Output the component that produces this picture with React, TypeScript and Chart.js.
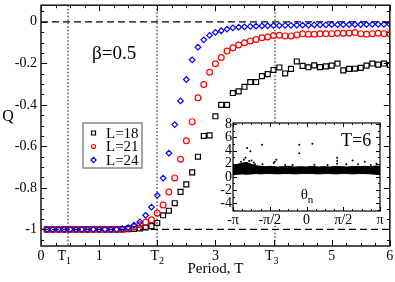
import React, { useEffect, useRef } from 'react';
import { Chart, registerables } from 'chart.js';
Chart.register(...registerables);

const FONT = '"Liberation Serif", "Times New Roman", serif';

// ---------- main data ----------
const periods = [
  0.1, 0.2, 0.3, 0.4, 0.5, 0.6, 0.7, 0.8, 0.9, 1.0,
  1.1, 1.2, 1.3, 1.4, 1.5, 1.6, 1.7, 1.8, 1.9, 2.0,
  2.1, 2.2, 2.3, 2.4, 2.5, 2.6, 2.7, 2.8, 2.9, 3.0,
  3.1, 3.2, 3.3, 3.4, 3.5, 3.6, 3.7, 3.8, 3.9, 4.0,
  4.1, 4.2, 4.3, 4.4, 4.5, 4.6, 4.7, 4.8, 4.9, 5.0,
  5.1, 5.2, 5.3, 5.4, 5.5, 5.6, 5.7, 5.8, 5.9, 6.0,
];
const qL18 = [
  -1, -1, -1, -1, -1, -1, -1, -1, -1, -1,
  -1, -1, -1, -1, -0.999, -0.998, -0.995, -0.991, -0.984, -0.969,
  -0.932, -0.91, -0.874, -0.819, -0.783, -0.725, -0.65, -0.55, -0.547, -0.455,
  -0.4, -0.4, -0.343, -0.335, -0.313, -0.29, -0.29, -0.262, -0.252, -0.232,
  -0.22, -0.249, -0.227, -0.191, -0.212, -0.219, -0.21, -0.218, -0.215, -0.211,
  -0.201, -0.234, -0.227, -0.226, -0.222, -0.211, -0.201, -0.206, -0.201, -0.208,
];
const qL21 = [
  -1, -1, -1, -1, -1, -1, -1, -1, -1, -1,
  -1, -1, -1, -1, -0.995, -0.988, -0.978, -0.965, -0.954, -0.922,
  -0.883, -0.82, -0.752, -0.662, -0.573, -0.481, -0.366, -0.302, -0.243, -0.202,
  -0.172, -0.141, -0.125, -0.112, -0.101, -0.092, -0.085, -0.077, -0.073, -0.066,
  -0.065, -0.068, -0.068, -0.063, -0.058, -0.06, -0.06, -0.058, -0.058, -0.057,
  -0.055, -0.055, -0.054, -0.052, -0.057, -0.06, -0.057, -0.055, -0.057, -0.057,
];
const qL24 = [
  -1, -1, -1, -1, -1, -1, -1, -1, -1, -1,
  -1, -1, -1, -0.997, -0.991, -0.98, -0.964, -0.932, -0.893, -0.836,
  -0.753, -0.633, -0.495, -0.381, -0.278, -0.183, -0.122, -0.087, -0.065, -0.051,
  -0.043, -0.035, -0.029, -0.026, -0.024, -0.022, -0.021, -0.02, -0.019, -0.018,
  -0.018, -0.017, -0.017, -0.016, -0.016, -0.016, -0.015, -0.015, -0.015, -0.014,
  -0.014, -0.014, -0.013, -0.013, -0.013, -0.013, -0.012, -0.012, -0.012, -0.012,
];
const seriesLabels = ['L=18', 'L=21', 'L=24'];
const seriesColors = ['#000000', '#ff0000', '#0000ff'];

const markerPeriods = [0.47, 2.0, 4.03]; // T1, T2, T3 dotted lines
const referenceQ = [0, -1];
const xTickValues = [0, 0.4, 1, 2, 3, 3.97, 5, 6];
const xTickLabels = ['0', 'T1', '1', 'T2', '3', 'T3', '5', '6'];
const yTickValues = [0, -0.2, -0.4, -0.6, -0.8, -1];
const yTickLabels = ['0', '-0.2', '-0.4', '-0.6', '-0.8', '-1'];

// ---------- inset data ----------
const PI = Math.PI;
const insetXTicks = [-PI, -PI / 2, 0, PI / 2, PI];
const insetXLabels = ['-π', '-π/2', '0', 'π/2', 'π'];
const insetYTicks = [8, 6, 4, 2, 0, -2, -4];
const insetYLabels = ['8', '6', '4', '2', '0', '-2', '-4'];
const bandTheta = [
  -3.14, -2.95, -2.75, -2.55, -2.35, -2.15, -1.95, -1.75, -1.5, -1.25,
  -1.0, -0.75, -0.5, -0.25, 0, 0.25, 0.5, 0.75, 1.0, 1.25,
  1.5, 1.75, 2.0, 2.25, 2.5, 2.75, 2.95, 3.14,
];
const bandTop = [
  1.7, 1.9, 2.1, 2.2, 1.9, 1.7, 1.6, 1.55, 1.6, 1.5,
  1.55, 1.6, 1.5, 1.55, 1.5, 1.6, 1.5, 1.55, 1.5, 1.6,
  1.55, 1.5, 1.6, 1.55, 1.6, 1.55, 1.65, 1.6,
];
const bandBottom = [
  0.3, 0.4, 0.45, 0.4, 0.45, 0.5, 0.45, 0.5, 0.5, 0.45,
  0.5, 0.5, 0.45, 0.5, 0.5, 0.5, 0.45, 0.5, 0.5, 0.45,
  0.5, 0.5, 0.45, 0.5, 0.5, 0.45, 0.4, 0.35,
];
const outlierTheta = [
  -2.8, -2.68, -2.61, -2.54, -2.45, -2.4, -2.35, -2.25, -2.55, -2.2,
  -1.9, -1.88, -1.36, -1.29, -1.4, -0.91, -0.6, -0.31, -0.31, 0.25,
  0.34, 0.9, 1.31, 1.31, 1.31, 1.7, 1.97, 2.2, 2.49, 2.75, 2.99,
];
const outlierValue = [
  2.3, 2.6, 2.9, 4.4, 2.4, 3.9, 2.5, 2.2, 2.1, 1.9,
  4.9, 1.9, 2.3, 2.6, 2.1, 1.8, 1.8, 4.9, 3.6, 5.05,
  1.85, 1.8, 2.9, 2.4, 2.0, 1.9, 2.5, 1.9, 2.3, 1.8, 2.0,
];

const INSET_LEFT = 195;
const INSET_TOP = 110;

function drawSubLabel(ctx: CanvasRenderingContext2D, text: string, cx: number, base: number, size: number) {
  const main = text.charAt(0);
  const sub = text.slice(1);
  ctx.font = `${size}px ${FONT}`;
  const w1 = ctx.measureText(main).width;
  ctx.font = `${Math.round(size * 0.7)}px ${FONT}`;
  const w2 = sub ? ctx.measureText(sub).width : 0;
  const start = cx - (w1 + w2) / 2;
  ctx.textAlign = 'left';
  ctx.textBaseline = 'alphabetic';
  ctx.font = `${size}px ${FONT}`;
  ctx.fillText(main, start, base);
  if (sub) {
    ctx.font = `${Math.round(size * 0.7)}px ${FONT}`;
    ctx.fillText(sub, start + w1, base + 4);
  }
}

function symbol(ctx: CanvasRenderingContext2D, kind: number, x: number, y: number, r: number) {
  ctx.beginPath();
  if (kind === 0) ctx.rect(x - r, y - r, 2 * r, 2 * r);
  else if (kind === 1) ctx.arc(x, y, r, 0, 2 * PI);
  else {
    ctx.moveTo(x, y - r * 1.3); ctx.lineTo(x + r * 1.3, y); ctx.lineTo(x, y + r * 1.3); ctx.lineTo(x - r * 1.3, y); ctx.closePath();
  }
  ctx.stroke();
}

const mainDecor = {
  id: 'mainDecor',
  beforeDatasetsDraw(chart: any) {
    const { ctx, chartArea: a, scales } = chart;
    const x = scales.x, y = scales.y;
    ctx.save();
    ctx.strokeStyle = '#555';
    ctx.lineWidth = 1.5;
    ctx.setLineDash([1.5, 2]);
    for (const v of markerPeriods) {
      const px = Math.round(x.getPixelForValue(v));
      ctx.beginPath(); ctx.moveTo(px, a.top); ctx.lineTo(px, a.bottom); ctx.stroke();
    }
    ctx.strokeStyle = '#000';
    ctx.lineWidth = 1.3;
    ctx.setLineDash([7, 4]);
    for (const v of referenceQ) {
      const py = y.getPixelForValue(v);
      ctx.beginPath(); ctx.moveTo(a.left, py); ctx.lineTo(a.right, py); ctx.stroke();
    }
    ctx.restore();
  },
  afterDraw(chart: any) {
    const { ctx, chartArea: a, scales } = chart;
    const x = scales.x, y = scales.y;
    ctx.save();
    ctx.setLineDash([]);
    ctx.strokeStyle = '#000';
    ctx.lineWidth = 1;
    for (let i = 0; i <= 24; i++) {
      const v = i * 0.25;
      const major = i % 4 === 0;
      const len = major ? 6 : 3;
      const px = Math.round(x.getPixelForValue(v)) + 0.5;
      ctx.beginPath();
      ctx.moveTo(px, a.bottom); ctx.lineTo(px, a.bottom - len);
      ctx.moveTo(px, a.top); ctx.lineTo(px, a.top + len);
      ctx.stroke();
    }
    for (let i = -21; i <= 1; i++) {
      const v = i * 0.05;
      const major = i % 4 === 0;
      const len = major ? 6 : 3;
      const py = Math.round(y.getPixelForValue(v)) + 0.5;
      ctx.beginPath();
      ctx.moveTo(a.left, py); ctx.lineTo(a.left + len, py);
      ctx.moveTo(a.right, py); ctx.lineTo(a.right - len, py);
      ctx.stroke();
    }
    ctx.lineWidth = 1.6;
    ctx.strokeStyle = '#222';
    ctx.strokeRect(a.left, a.top, a.right - a.left, a.bottom - a.top);
    ctx.fillStyle = '#000';
    ctx.font = `14px ${FONT}`;
    ctx.textAlign = 'right';
    ctx.textBaseline = 'middle';
    yTickValues.forEach((v, i) => ctx.fillText(yTickLabels[i], a.left - 4, y.getPixelForValue(v)));
    xTickValues.forEach((v, i) => drawSubLabel(ctx, xTickLabels[i], x.getPixelForValue(v), a.bottom + 14, 14));
    ctx.font = `16px ${FONT}`;
    ctx.textAlign = 'center';
    ctx.textBaseline = 'middle';
    ctx.fillText('Q', 8, 117);
    ctx.font = `15px ${FONT}`;
    ctx.textBaseline = 'alphabetic';
    ctx.fillText('Period, T', (a.left + a.right) / 2, 273);
    ctx.font = `19px ${FONT}`;
    ctx.textAlign = 'left';
    ctx.fillText('β=0.5', 92, 59);
    ctx.strokeStyle = '#888';
    ctx.lineWidth = 1.5;
    ctx.strokeRect(83, 123, 59, 45);
    ctx.font = `15px ${FONT}`;
    ctx.textBaseline = 'middle';
    seriesLabels.forEach((lab, i) => {
      const yy = 133 + i * 13.5;
      ctx.strokeStyle = seriesColors[i];
      ctx.lineWidth = 1.2;
      symbol(ctx, i, 93.5, yy, 2);
      ctx.fillStyle = '#000';
      ctx.fillText(lab, 106, yy + 1);
    });
    ctx.restore();
  },
};

const insetDecor = {
  id: 'insetDecor',
  beforeDraw(chart: any) {
    const { ctx, chartArea: a } = chart;
    ctx.save();
    ctx.fillStyle = '#fff';
    ctx.fillRect(a.left, a.top, a.right - a.left, a.bottom - a.top + 11);
    ctx.restore();
  },
  afterDraw(chart: any) {
    const { ctx, chartArea: a, scales } = chart;
    const x = scales.x, y = scales.y;
    ctx.save();
    ctx.strokeStyle = '#000';
    ctx.lineWidth = 1;
    for (let i = -8; i <= 8; i++) {
      const v = (i * PI) / 8;
      const len = i % 4 === 0 ? 4 : 2;
      const px = Math.round(x.getPixelForValue(v)) + 0.5;
      ctx.beginPath();
      ctx.moveTo(px, a.bottom); ctx.lineTo(px, a.bottom - len);
      ctx.moveTo(px, a.top); ctx.lineTo(px, a.top + len);
      ctx.stroke();
    }
    for (let v = -5; v <= 8; v++) {
      const len = v % 2 === 0 ? 4 : 2;
      const py = Math.round(y.getPixelForValue(v)) + 0.5;
      ctx.beginPath();
      ctx.moveTo(a.left, py); ctx.lineTo(a.left + len, py);
      ctx.moveTo(a.right, py); ctx.lineTo(a.right - len, py);
      ctx.stroke();
    }
    ctx.lineWidth = 1.2;
    ctx.strokeRect(a.left, a.top, a.right - a.left, a.bottom - a.top);
    ctx.fillStyle = '#000';
    ctx.font = `14px ${FONT}`;
    ctx.textAlign = 'right';
    ctx.textBaseline = 'middle';
    insetYTicks.forEach((v, i) => ctx.fillText(insetYLabels[i], a.left - 1, y.getPixelForValue(v)));
    ctx.textAlign = 'center';
    ctx.textBaseline = 'alphabetic';
    insetXTicks.forEach((v, i) => ctx.fillText(insetXLabels[i], x.getPixelForValue(v), a.bottom + 13));
    ctx.font = `18px ${FONT}`;
    ctx.textAlign = 'left';
    ctx.fillText('T=6', 341 - INSET_LEFT, 146 - INSET_TOP);
    drawSubLabel(ctx, 'θn', 307 - INSET_LEFT, 199 - INSET_TOP, 15);
    ctx.restore();
  },
};

export default function App() {
  const mainRef = useRef<HTMLCanvasElement>(null);
  const insetRef = useRef<HTMLCanvasElement>(null);

  useEffect(() => {
    const styles = ['rect', 'circle', 'rectRot'];
    const radii = [3.5, 2.9, 2.8];
    const qs = [qL18, qL21, qL24];
    const main = new Chart(mainRef.current as HTMLCanvasElement, {
      type: 'scatter',
      data: {
        datasets: qs.map((q, k) => ({
          label: seriesLabels[k],
          data: periods.map((t, i) => ({ x: t, y: q[i] })),
          pointStyle: styles[k] as any,
          pointRadius: radii[k],
          pointBorderWidth: 1.2,
          borderColor: seriesColors[k],
          backgroundColor: 'rgba(0,0,0,0)',
          showLine: false,
          order: 3 - k,
        })),
      },
      options: {
        animation: false,
        responsive: false,
        events: [],
        layout: { padding: { left: 41, right: 2, top: 1, bottom: 36 } },
        plugins: { legend: { display: false }, tooltip: { enabled: false } },
        scales: {
          x: { type: 'linear', min: 0, max: 6, display: false },
          y: { type: 'linear', min: -1.08, max: 0.08, display: false },
        },
      },
      plugins: [mainDecor],
    });

    const inset = new Chart(insetRef.current as HTMLCanvasElement, {
      type: 'line',
      data: {
        datasets: [
          {
            data: bandTheta.map((t, i) => ({ x: t, y: bandBottom[i] })),
            borderColor: '#000', borderWidth: 1, pointRadius: 0, fill: false,
          },
          {
            data: bandTheta.map((t, i) => ({ x: t, y: bandTop[i] })),
            borderColor: '#000', borderWidth: 1, pointRadius: 0, fill: '-1', backgroundColor: '#000',
          },
          {
            data: outlierTheta.map((t, i) => ({ x: t, y: outlierValue[i] })),
            showLine: false, pointRadius: 1, pointBorderWidth: 0, backgroundColor: '#000', borderColor: '#000',
          },
        ],
      },
      options: {
        animation: false,
        responsive: false,
        events: [],
        layout: { padding: { left: 38, right: 15, top: 13, bottom: 24 } },
        plugins: { legend: { display: false }, tooltip: { enabled: false } },
        scales: {
          x: { type: 'linear', min: -PI, max: PI, display: false },
          y: { type: 'linear', min: -5.2, max: 8.2, display: false },
        },
      },
      plugins: [insetDecor],
    });

    return () => {
      main.destroy();
      inset.destroy();
    };
  }, []);

  return (
    <div style={{ position: 'absolute', left: 0, top: 0, width: 395, height: 282, background: '#fff' }}>
      <canvas ref={mainRef} width={395} height={282} style={{ position: 'absolute', left: 0, top: 0 }} />
      <canvas ref={insetRef} width={200} height={125} style={{ position: 'absolute', left: INSET_LEFT, top: INSET_TOP }} />
    </div>
  );
}
